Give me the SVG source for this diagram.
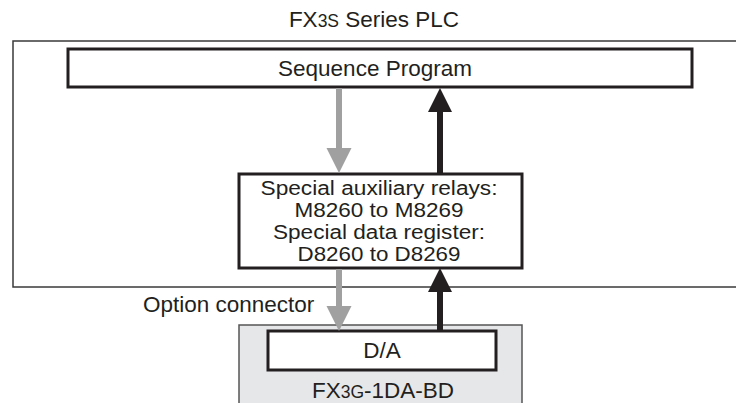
<svg xmlns="http://www.w3.org/2000/svg" width="736" height="403" viewBox="0 0 736 403">
<style>
text{font-family:"Liberation Sans",Arial,sans-serif;font-size:22.5px;fill:#231f20}
.c{text-anchor:middle}
.m{font-size:19.5px}
.thick{fill:#fff;stroke:#231f20;stroke-width:3}
.gs{stroke:#a0a0a0;stroke-width:6;fill:none}
.bs{stroke:#231f20;stroke-width:6;fill:none}
</style>
<rect width="736" height="403" fill="#fff"/>
<g id="plc">
<rect x="13" y="41" width="740" height="246" fill="#fff" stroke="#3a3a3a" stroke-width="1.5"/>
<text class="c" x="374" y="27">FX<tspan font-size="17.5">3S</tspan> Series PLC</text>
</g>
<g id="board">
<rect x="239" y="325" width="283" height="90" fill="#e6e7e8" stroke="#555" stroke-width="1.5"/>
<text class="c" x="383" y="398">FX<tspan font-size="17.5">3G</tspan>-1DA-BD</text>
</g>
<g id="seq">
<rect class="thick" x="68" y="49" width="624" height="38"/>
<text class="c" x="375" y="76">Sequence Program</text>
</g>
<g id="special">
<rect class="thick" x="239" y="174" width="283" height="94"/>
<text class="c m" x="379" y="195" textLength="237" lengthAdjust="spacingAndGlyphs">Special auxiliary relays:</text>
<text class="c m" x="379" y="217" textLength="169" lengthAdjust="spacingAndGlyphs">M8260 to M8269</text>
<text class="c m" x="379" y="239" textLength="212" lengthAdjust="spacingAndGlyphs">Special data register:</text>
<text class="c m" x="379" y="261" textLength="163" lengthAdjust="spacingAndGlyphs">D8260 to D8269</text>
</g>
<g id="da">
<rect class="thick" x="268" y="331" width="228" height="39"/>
<text class="c" x="382" y="358">D/A</text>
</g>
<g id="labels">
<text x="143" y="312">Option connector</text>
</g>
<g id="connectors">
<line class="gs" x1="339" y1="88" x2="339" y2="150"/>
<polygon points="326.5,148 351.5,148 339,173" fill="#a0a0a0"/>
<line class="gs" x1="339" y1="269" x2="339" y2="308"/>
<polygon points="326.5,306 351.5,306 339,331" fill="#a0a0a0"/>
<line class="bs" x1="440" y1="110" x2="440" y2="173"/>
<polygon points="428,112 452,112 440,88" fill="#231f20"/>
<line class="bs" x1="440" y1="290" x2="440" y2="330"/>
<polygon points="428,292 452,292 440,268" fill="#231f20"/>
</g>
</svg>
